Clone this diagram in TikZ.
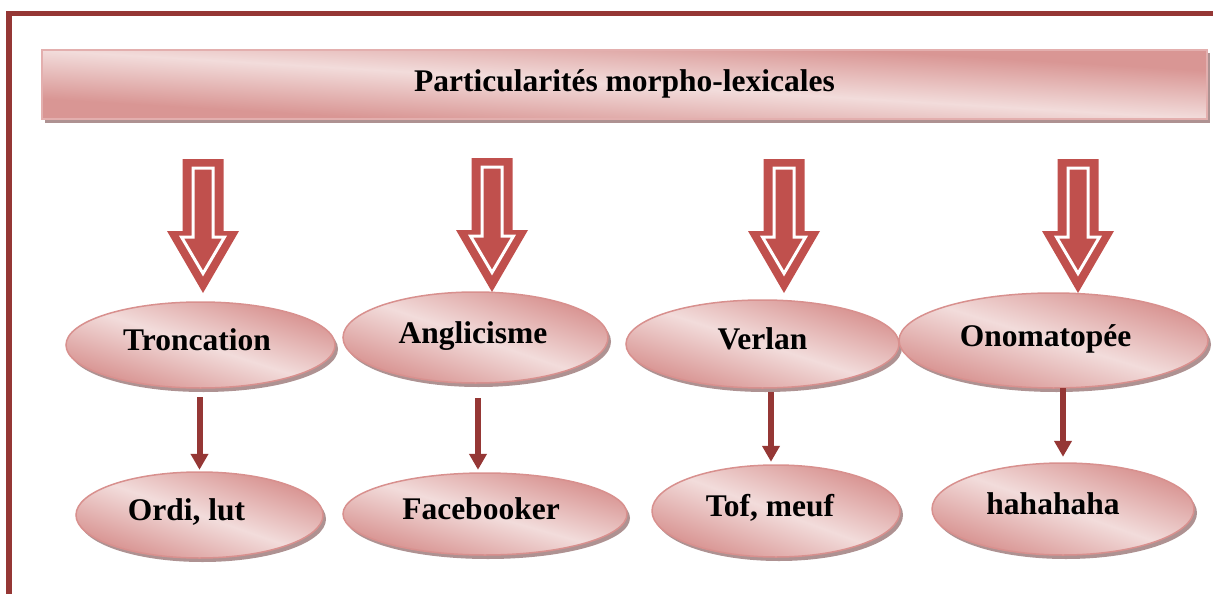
\documentclass[tikz,border=0pt]{standalone}
\usepackage{fontspec}
\setmainfont{Liberation Serif}
\usetikzlibrary{shapes.geometric,arrows.meta,calc,backgrounds}
\definecolor{borderred}{HTML}{953735}
\definecolor{arrred}{HTML}{C0504D}
\definecolor{pinkdark}{HTML}{D99694}
\definecolor{pinklight}{HTML}{F2DCDB}
\definecolor{pinkline}{HTML}{D8908E}
\definecolor{bannerline}{HTML}{E3AFAE}
\definecolor{shadowcol}{HTML}{AE9292}
\newcommand{\tleft}[1]{\hspace*{#1pt}}
% shaded ellipse behind node #1, radii #2 and #3 (pt)
\newcommand{\pinkbubble}[3]{%
  \fill[shadowcol] ($(#1.center)+(3,4)$) ellipse [x radius=#2, y radius=#3];
  \shade[pinkgrad, transform canvas={shift={(#1.center)}, xscale=#2/50, yscale=#3/50}] (0,0) circle [radius=50pt];
  \draw[pinkline, line width=1.5pt] (#1.center) ellipse [x radius=#2, y radius=#3];
}
\tikzset{
  pinkgrad/.style={top color=pinkdark, bottom color=pinkdark, middle color=pinklight, shading angle=-45},
  bubble/.style={ellipse, inner sep=0pt,
    font=\fontsize{31.5}{36}\selectfont\bfseries, text height=22pt, text depth=11pt},
  banner/.style={rectangle, inner sep=0pt, minimum width=1165pt, minimum height=69pt,
    font=\fontsize{31.5}{36}\selectfont\bfseries, text height=22pt, text depth=7pt},
  frameline/.style={draw=borderred, line width=5.5pt, line join=miter},
  smallarr/.style={draw=borderred, line width=6pt, -{Triangle[width=17pt,length=16pt]}},
  bigarrow/.pic={
    \fill[arrred] (-20.5,-134) -- (20.5,-134) -- (20.5,-62) -- (36,-62) -- (0,0) -- (-36,-62) -- (-20.5,-62) -- cycle;
    \draw[white, line width=3pt, line join=miter] (-10,-125) -- (10,-125) -- (10,-56) -- (21.5,-56) -- (0,-19.5) -- (-21.5,-56) -- (-10,-56) -- cycle;
  }
}
\begin{document}
\begin{tikzpicture}[x=1pt, y=-1pt]
\useasboundingbox (0,0) rectangle (1213,594);
\draw[frameline] (9,594) -- (9,13.5) -- (1213,13.5);

\node[banner] (ban) at (624.5,84.5) {Particularités morpho-lexicales};

\node[bubble, minimum width=269pt, minimum height=86pt] (tro) at (200.5,345) {Troncation\tleft{7}};
\node[bubble, minimum width=265pt, minimum height=91pt] (ang) at (475.5,337.5) {Anglicisme\tleft{5}};
\node[bubble, minimum width=273pt, minimum height=88pt] (ver) at (762.5,344) {Verlan};
\node[bubble, minimum width=309pt, minimum height=95pt] (ono) at (1053.5,340.5) {Onomatopée\tleft{16}};

\node[bubble, minimum width=247pt, minimum height=86pt] (ordi) at (199.5,515) {Ordi, lut\tleft{26}};
\node[bubble, minimum width=284pt, minimum height=82pt] (fb) at (485,514) {Facebooker\tleft{8}};
\node[bubble, minimum width=248pt, minimum height=92pt] (tof) at (776,511) {Tof, meuf\tleft{12}};
\node[bubble, minimum width=262pt, minimum height=92pt] (haha) at (1063,509) {hahahaha\tleft{20}};

\begin{pgfonlayer}{background}
  \fill[shadowcol] ($(ban.south west)+(3,0)$) rectangle ($(ban.south east)+(3,4)$);
  \fill[shadowcol] ($(ban.north east)+(0,3)$) rectangle ($(ban.south east)+(3,4)$);
  \shade[pinkgrad, transform canvas={shift={(ban.center)}, xscale=11.65, yscale=0.69}] (-50pt,-50pt) rectangle (50pt,50pt);
  \draw[bannerline, line width=2pt] (ban.south west) rectangle (ban.north east);
  \pinkbubble{tro}{134.5}{43}
  \pinkbubble{ang}{132.5}{45.5}
  \pinkbubble{ver}{136.5}{44}
  \pinkbubble{ono}{154.5}{47.5}
  \pinkbubble{ordi}{123.5}{43}
  \pinkbubble{fb}{142}{41}
  \pinkbubble{tof}{124}{46}
  \pinkbubble{haha}{131}{46}
\end{pgfonlayer}

\pic at (203,293) {bigarrow};
\pic at (492,292) {bigarrow};
\pic at (784,293) {bigarrow};
\pic at (1078,293) {bigarrow};

\draw[smallarr] ($(tro.south -| ordi.north)+(0,9)$) -- ($(ordi.north)+(0,-2)$);
\draw[smallarr] ($(ang.south -| fb.north)+(-7,15)$) -- ($(fb.north)+(-7,-3)$);
\draw[smallarr] ($(ver.south -| tof.north)+(-5,4)$) -- ($(tof.north)+(-5,-3)$);
\draw[smallarr] ($(ono.south -| haha.north)+(0,0)$) -- ($(haha.north)+(0,-6)$);
\end{tikzpicture}
\end{document}
